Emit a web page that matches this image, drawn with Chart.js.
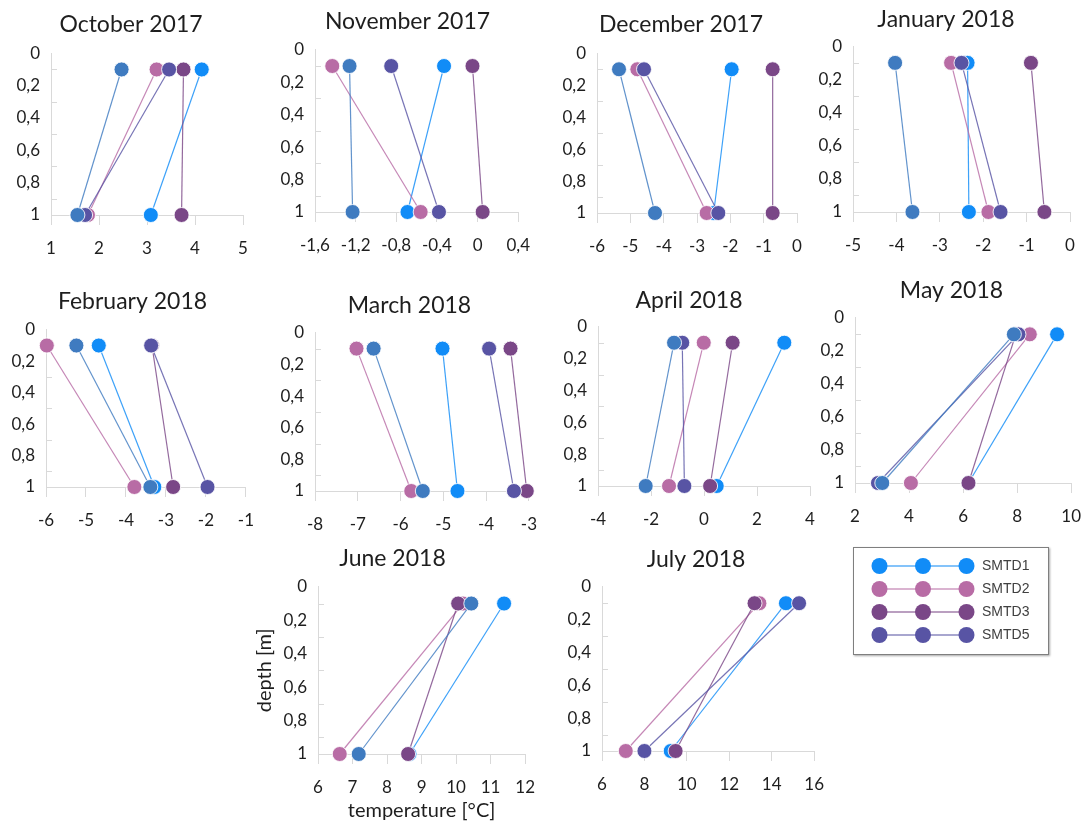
<!DOCTYPE html>
<html>
<head>
<meta charset="utf-8">
<title>Soil temperature profiles</title>
<script src="https://cdn.jsdelivr.net/npm/chart.js@4.4.1/dist/chart.umd.min.js"></script>
<style>
    html, body { margin: 0; padding: 0; background: #fff; overflow: hidden; }
    body { width: 1089px; height: 825px; position: relative; }
    canvas.panel { position: absolute; }
    #legendBox {
        position: absolute; left: 853px; top: 547px; width: 194px; height: 106px;
        border: 1px solid #7f7f7f; box-shadow: 1px 1px 2px rgba(0,0,0,0.35);
    }
</style>
</head>
<body>
<div id="legendBox"><canvas id="legend" width="194" height="106"></canvas></div>
<script>
window.addEventListener("DOMContentLoaded", function() {
    // one panel per month, depth 0.1 m and 1 m
    const months = ["October 2017", "November 2017", "December 2017", "January 2018",
        "February 2018", "March 2018", "April 2018", "May 2018", "June 2018", "July 2018"];
    const depths = [0.1, 1];
    const depthTicks = [0, 0.2, 0.4, 0.6, 0.8, 1];
    const depthMinorTicks = [0.1, 0.3, 0.5, 0.7, 0.9];
    const tempTicks = [
        [1, 2, 3, 4, 5],
        [-1.6, -1.2, -0.8, -0.4, 0, 0.4],
        [-6, -5, -4, -3, -2, -1, 0],
        [-5, -4, -3, -2, -1, 0],
        [-6, -5, -4, -3, -2, -1],
        [-8, -7, -6, -5, -4, -3],
        [-4, -2, 0, 2, 4],
        [2, 4, 6, 8, 10],
        [6, 7, 8, 9, 10, 11, 12],
        [6, 8, 10, 12, 14, 16]
    ];

    // temperatures [°C] per month, Oct 2017 .. Jul 2018
    const smtd1Top    = [4.14, -0.33, -1.96, -2.36, -4.68, -5.02, 3.03, 9.48, 11.39, 14.67];
    const smtd1Bottom = [3.08, -0.69, -2.50, -2.33, -3.29, -4.67, 0.48, 6.20, 8.65, 9.24];
    const smtd2Top    = [3.20, -1.43, -4.79, -2.74, -5.98, -7.03, -0.01, 8.47, 10.20, 13.42];
    const smtd2Bottom = [1.77, -0.56, -2.71, -1.88, -3.79, -5.75, -1.32, 4.07, 6.63, 7.12];
    const smtd3Top    = [3.76, -0.05, -0.73, -0.90, -3.35, -3.43, 1.08, 7.95, 10.06, 13.19];
    const smtd3Bottom = [3.72, 0.05, -0.73, -0.59, -2.82, -3.05, 0.23, 6.20, 8.61, 9.47];
    const smtd5Top    = [3.46, -0.85, -4.59, -2.50, -3.37, -3.93, -0.82, 8.05, null, 15.29];
    const smtd5Bottom = [1.71, -0.38, -2.36, -1.60, -1.96, -3.35, -0.74, 2.85, null, 8.00];
    const smtd4Top    = [2.47, -1.26, -5.34, -4.03, -5.24, -6.63, -1.13, 7.88, 10.44, null];
    const smtd4Bottom = [1.55, -1.23, -4.26, -3.63, -3.39, -5.48, -2.20, 3.01, 7.18, null];

    const seriesNames = ["SMTD1", "SMTD2", "SMTD3", "SMTD5", "SMTD4"];
    const seriesColors = ["#118cf7", "#b86ca5", "#7a4787", "#5854a4", "#3f7bc0"];
    const seriesTop = [smtd1Top, smtd2Top, smtd3Top, smtd5Top, smtd4Top];
    const seriesBottom = [smtd1Bottom, smtd2Bottom, smtd3Bottom, smtd5Bottom, smtd4Bottom];
    const legendNames = ["SMTD1", "SMTD2", "SMTD3", "SMTD5"];

    // plot box of every panel on the page
    const panels = [
        {left: 51,  right: 243,  top: 53,  bottom: 215, titleX: 131,   titleY: 23},
        {left: 315, right: 523,  top: 50,  bottom: 212, titleX: 407.5, titleY: 20.5},
        {left: 597, right: 797,  top: 53,  bottom: 213, titleX: 681,   titleY: 23},
        {left: 853, right: 1070, top: 46,  bottom: 212, titleX: 946,   titleY: 18},
        {left: 46,  right: 247,  top: 330, bottom: 487, titleX: 132.5, titleY: 300.5},
        {left: 315, right: 530,  top: 333, bottom: 491, titleX: 409.5, titleY: 304.5},
        {left: 598, right: 810,  top: 327, bottom: 486, titleX: 689,   titleY: 299.5},
        {left: 855, right: 1074, top: 318, bottom: 483, titleX: 951.5, titleY: 289.5},
        {left: 318, right: 528,  top: 587, bottom: 754, titleX: 392.5, titleY: 557.5, axisW: 61, axisH: 69, titles: true},
        {left: 602, right: 817,  top: 587, bottom: 751, titleX: 696,   titleY: 558.5}
    ];

    const PAD = 20;
    const TITLE_SIZE = 23;
    const TITLE_LH = TITLE_SIZE * 1.2;
    const TITLE_NUDGE = 1.5;
    const axisGrey = "#d9d9d9";
    const textColor = "#1e1e1e";

    function comma(v) {
        return String(v).replace(".", ",");
    }

    // short inside tick marks on the depth axis
    const innerDepthTicks = {
        id: "innerDepthTicks",
        beforeDatasetsDraw(chart) {
            const ctx = chart.ctx;
            const y = chart.scales.y;
            const left = Math.round(chart.chartArea.left);
            ctx.save();
            ctx.strokeStyle = axisGrey;
            ctx.lineWidth = 1;
            ctx.beginPath();
            depthMinorTicks.forEach(v => {
                const py = Math.round(y.getPixelForValue(v)) + 0.5;
                ctx.moveTo(left, py);
                ctx.lineTo(left + 6, py);
            });
            ctx.stroke();
            ctx.restore();
        }
    };

    // move the title block so it centres on the given x
    const titleShift = {
        id: "titleShift",
        afterLayout(chart, args, opts) {
            const t = chart.titleBlock;
            if (!t || opts.centerX === undefined) return;
            const dx = opts.centerX - (t.left + t.right) / 2;
            t.left += dx;
            t.right += dx;
        }
    };

    function makeDatasets(m) {
        const sets = [];
        seriesNames.forEach((name, i) => {
            const t = seriesTop[i][m];
            const b = seriesBottom[i][m];
            if (t === null || b === null) return;
            sets.push({
                label: name,
                data: [{x: t, y: depths[0]}, {x: b, y: depths[1]}],
                borderColor: seriesColors[i] + "d0",
                backgroundColor: seriesColors[i],
                borderWidth: 1.2,
                pointRadius: 7.5,
                pointBackgroundColor: seriesColors[i],
                pointBorderColor: "rgba(255,255,255,0.85)",
                pointBorderWidth: 1,
                tension: 0,
                clip: false,
                order: seriesNames.length - i
            });
        });
        return sets;
    }

    months.forEach((month, m) => {
        const p = panels[m];
        const ticks = tempTicks[m];
        const axisW = p.axisW || 42;
        const axisH = p.axisH || 50;
        const titleY = p.titleY + TITLE_NUDGE;
        const cl = p.left - axisW - PAD;
        const ct = titleY - TITLE_LH / 2 - 2;
        const w = Math.round(p.right + PAD - cl);
        const h = Math.round(p.bottom + axisH + 2 - ct);

        const canvas = document.createElement("canvas");
        canvas.className = "panel";
        canvas.width = w;
        canvas.height = h;
        canvas.style.left = cl + "px";
        canvas.style.top = ct + "px";
        document.body.appendChild(canvas);

        new Chart(canvas.getContext("2d"), {
            type: "line",
            data: { datasets: makeDatasets(m) },
            plugins: [innerDepthTicks, titleShift],
            options: {
                responsive: false,
                animation: false,
                events: [],
                layout: { padding: {left: PAD, right: PAD, top: 2, bottom: 2} },
                plugins: {
                    legend: { display: false },
                    tooltip: { enabled: false },
                    titleShift: { centerX: p.titleX - cl },
                    title: {
                        display: true,
                        text: month,
                        color: textColor,
                        font: {family: "Lato", size: TITLE_SIZE, weight: "normal", lineHeight: 1.2},
                        padding: {top: 0, bottom: p.top - titleY - TITLE_LH / 2}
                    }
                },
                scales: {
                    x: {
                        type: "linear",
                        min: ticks[0],
                        max: ticks[ticks.length - 1],
                        afterBuildTicks: s => { s.ticks = ticks.map(v => ({value: v})); },
                        afterFit: s => { s.height = axisH; },
                        grid: { display: true, drawOnChartArea: false, drawTicks: true, tickLength: 10, color: axisGrey },
                        border: { display: true, color: axisGrey, width: 1 },
                        ticks: {
                            autoSkip: false, maxRotation: 0, padding: 13,
                            color: textColor, font: {family: "Lato", size: 17},
                            callback: v => comma(v)
                        },
                        title: {
                            display: !!p.titles, text: "temperature [°C]", color: textColor,
                            font: {family: "Lato", size: 20, lineHeight: 1.2}, padding: 0
                        }
                    },
                    y: {
                        type: "linear",
                        reverse: true,
                        min: 0,
                        max: 1,
                        afterBuildTicks: s => { s.ticks = depthTicks.map(v => ({value: v})); },
                        afterFit: s => { s.width = axisW; },
                        grid: { display: false, drawTicks: false },
                        border: { display: true, color: axisGrey, width: 1 },
                        ticks: {
                            padding: 11, color: textColor, font: {family: "Lato", size: 17},
                            callback: v => comma(v)
                        },
                        title: {
                            display: !!p.titles, text: "depth [m]", color: textColor,
                            font: {family: "Lato", size: 20, lineHeight: 0.75}, padding: 0
                        }
                    }
                }
            }
        });
    });

    // legend sample: line with three markers
    function sample(color) {
        const c = document.createElement("canvas");
        c.width = 104;
        c.height = 18;
        const g = c.getContext("2d");
        g.strokeStyle = color + "b0";
        g.lineWidth = 1.5;
        g.beginPath();
        g.moveTo(8, 9);
        g.lineTo(96, 9);
        g.stroke();
        g.fillStyle = color;
        [8.5, 52, 95.5].forEach(x => {
            g.beginPath();
            g.arc(x, 9, 8, 0, Math.PI * 2);
            g.fill();
        });
        return c;
    }

    new Chart(document.getElementById("legend").getContext("2d"), {
        type: "line",
        data: {
            datasets: legendNames.map(name => ({
                label: name,
                data: [],
                borderColor: seriesColors[seriesNames.indexOf(name)]
            }))
        },
        options: {
            responsive: false,
            animation: false,
            events: [],
            layout: { padding: {left: 8, right: 0, top: 2, bottom: 0} },
            scales: { x: {display: false}, y: {display: false} },
            plugins: {
                tooltip: { enabled: false },
                legend: {
                    display: true,
                    position: "top",
                    align: "start",
                    maxHeight: 120,
                    maxWidth: 200,
                    labels: {
                        usePointStyle: true,
                        pointStyleWidth: 104,
                        padding: 9,
                        color: "#404040",
                        font: {family: "Liberation Sans", size: 14},
                        generateLabels: chart => chart.data.datasets.map((ds, i) => ({
                            text: ds.label,
                            pointStyle: sample(ds.borderColor),
                            fillStyle: ds.borderColor,
                            strokeStyle: ds.borderColor,
                            lineWidth: 0,
                            hidden: false,
                            datasetIndex: i,
                            fontColor: "#404040"
                        }))
                    }
                }
            }
        }
    });
});
</script>
</body>
</html>
